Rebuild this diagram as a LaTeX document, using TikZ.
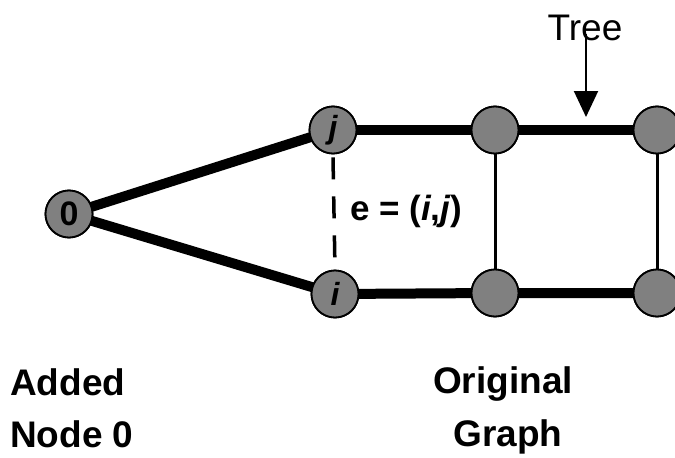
\documentclass[tikz,border=0pt]{standalone}
\usepackage{fontspec}
\setmainfont{Liberation Sans}
\usetikzlibrary{arrows.meta}
\begin{document}
\begin{tikzpicture}[x=1pt,y=-1pt,
  vert/.style={circle,draw=black,line width=1.8pt,fill=black!50,minimum size=47pt,inner sep=0pt,font=\bfseries\itshape\fontsize{32}{32}\selectfont},
  thick edge/.style={line width=10pt},
  thin edge/.style={line width=3pt},
  dashed edge/.style={line width=3.5pt,dash pattern=on 22pt off 17pt},
  lbl/.style={font=\bfseries\fontsize{37}{37}\selectfont,inner sep=0pt}]
\useasboundingbox (0,0) rectangle (675,458);
\node[vert] (z) at (69,214) {};
\node[vert] (j) at (333,130) {};
\node[vert] (i) at (335,294) {};
\node[vert] (a) at (495,130) {};
\node[vert] (b) at (495,293) {};
\node[vert] (c) at (657,130) {};
\node[vert] (d) at (657,293) {};
\draw[thick edge] (z.center) -- (j.center);
\draw[thick edge] (z.center) -- (i.center);
\draw[thick edge] (j.center) -- (a.center) -- (c.center);
\draw[thick edge] (i.center) -- (b.center) -- (d.center);
\draw[thin edge] (a.center) -- (b.center);
\draw[thin edge] (c.center) -- (d.center);
\path (j.south) ++(0,3) coordinate (ds) (i.north) coordinate (de);
\draw[dashed edge] (ds) -- (de);
\node[vert,font=\bfseries\fontsize{34}{34}\selectfont] at (z) {0};
\node[vert] at (j) {j};
\node[vert] at (i) {i};
\node[vert] at (a) {};
\node[vert] at (b) {};
\node[vert] at (c) {};
\node[vert] at (d) {};
\node[font=\bfseries\fontsize{35}{35}\selectfont,anchor=base west,inner sep=0pt] (e) at (350,220) {e = (\textit{i},\textit{j})};
\node[font=\fontsize{37}{37}\selectfont,inner sep=0pt,anchor=base] (tree) at (585,40) {Tree};
\coordinate (ta) at (586,34);
\coordinate (tb) at (586,117);
\draw[line width=2pt,-{Triangle[width=24pt,length=26pt]}] (ta) -- (tb);
\node[lbl,anchor=base west] (added) at (10,395) {Added};
\node[lbl,anchor=base west] (node0) at (10,447) {Node 0};
\node[lbl,anchor=base] (orig) at (503,393) {Original};
\node[lbl,anchor=base] (graph) at (508,446) {Graph};
\end{tikzpicture}
\end{document}
